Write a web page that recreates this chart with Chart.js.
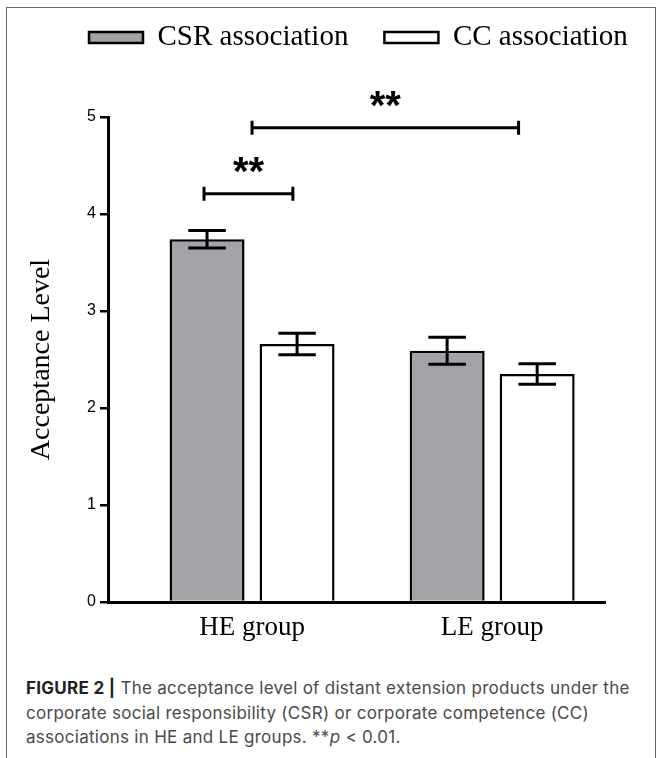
<!DOCTYPE html>
<html>
<head>
<meta charset="utf-8">
<script src="https://cdn.jsdelivr.net/npm/chart.js@4"></script>
<style>
  html, body { margin: 0; padding: 0; background: #fff; overflow: hidden; }
  #page { position: relative; width: 657px; height: 758px; overflow: hidden; }
  #frame {
    position: absolute; left: 6px; top: 7px; width: 648px; height: 760px;
    border-top: 1px solid #666; border-left: 1px solid #666; border-right: 1px solid #666;
    pointer-events: none; z-index: 2;
  }
  #chart { position: absolute; left: 0; top: -13px; }
  #caption {
    position: absolute; left: 26px; top: 676px;
    font-family: Inter, "Liberation Sans", Arial, sans-serif; font-size: 17px; line-height: 24.5px;
    color: #4a4a4a; letter-spacing: 0.28px; white-space: nowrap;
  }
  #caption b { color: #222; font-weight: 700; }
</style>
</head>
<body>
<div id="page">
  <div id="frame"></div>
  <canvas id="chart" width="657" height="672"></canvas>
  <div id="caption"><b>FIGURE 2 |</b> The acceptance level of distant extension products under the<br>corporate social responsibility (CSR) or corporate competence (CC)<br>associations in HE and LE groups. **<i>p</i> &lt; 0.01.</div>
</div>
<script>
// Groups along the x axis and the two association conditions
const categories = ['HE group', 'LE group'];
const seriesNames = ['CSR association', 'CC association'];
const csrMeans = [3.74, 2.59];
const ccMeans = [2.66, 2.35];
const csrErrors = [0.09, 0.14];
const ccErrors = [0.11, 0.105];
const yTicks = [0, 1, 2, 3, 4, 5];

// Significance brackets: x extents in axis units, height in data units
const brackets = [
  { x0: -0.2, x1: 0.17, y: 4.21, label: '**' },
  { x0: 0.0, x1: 1.11, y: 4.89, label: '**' }
];

const toPoints = arr => arr.map((v, i) => ({ x: i, y: v }));

// Draws mean ± error whiskers on top of each bar
const errorBarPlugin = {
  id: 'errorBars',
  afterDatasetsDraw(chart) {
    const { ctx, scales: { y } } = chart;
    const errs = [csrErrors, ccErrors];
    chart.data.datasets.forEach((ds, di) => {
      const meta = chart.getDatasetMeta(di);
      meta.data.forEach((bar, i) => {
        const v = ds.data[i].y;
        const e = errs[di][i];
        const top = y.getPixelForValue(v + e);
        const bot = y.getPixelForValue(v - e);
        const half = bar.width / 4;
        ctx.save();
        ctx.strokeStyle = '#000';
        ctx.lineWidth = 3;
        ctx.beginPath();
        ctx.moveTo(bar.x, top); ctx.lineTo(bar.x, bot);
        ctx.moveTo(bar.x - half, top); ctx.lineTo(bar.x + half, top);
        ctx.moveTo(bar.x - half, bot); ctx.lineTo(bar.x + half, bot);
        ctx.stroke();
        ctx.restore();
      });
    });
  }
};

// Draws the significance brackets with their star labels
const bracketPlugin = {
  id: 'sigBrackets',
  afterDraw(chart) {
    const { ctx, scales: { x, y } } = chart;
    brackets.forEach(b => {
      const xa = x.getPixelForValue(b.x0);
      const xb = x.getPixelForValue(b.x1);
      const yy = y.getPixelForValue(b.y);
      ctx.save();
      ctx.strokeStyle = '#000';
      ctx.lineWidth = 3;
      ctx.beginPath();
      ctx.moveTo(xa, yy); ctx.lineTo(xb, yy);
      ctx.moveTo(xa, yy - 7); ctx.lineTo(xa, yy + 7);
      ctx.moveTo(xb, yy - 7); ctx.lineTo(xb, yy + 7);
      ctx.stroke();
      ctx.fillStyle = '#000';
      ctx.font = 'bold 40px "Liberation Sans", Arial, sans-serif';
      ctx.textAlign = 'center';
      ctx.textBaseline = 'alphabetic';
      ctx.fillText(b.label, (xa + xb) / 2, yy - 9);
      ctx.restore();
    });
  }
};

// Keep the legend on one row and reserve the space between it and the plot area
const legendSpacePlugin = {
  id: 'legendSpace',
  beforeLayout(chart) {
    const lg = chart.legend;
    if (lg && !lg._spaced) {
      const fit = lg.fit;
      lg.fit = function () {
        this.maxWidth = Math.max(this.maxWidth, 700);
        fit.call(this);
        this.height = 130;
      };
      lg._spaced = true;
    }
  },
  afterLayout(chart) {
    const lg = chart.legend;
    if (lg) lg.right = lg.left + 700;
  }
};

const serif = '"Liberation Serif", "Times New Roman", serif';
const sans = '"Liberation Sans", Arial, sans-serif';

new Chart(document.getElementById('chart'), {
  type: 'bar',
  data: {
    datasets: [
      {
        label: seriesNames[0],
        data: toPoints(csrMeans),
        backgroundColor: '#a3a2a7',
        borderColor: '#000',
        borderWidth: 2.5
      },
      {
        label: seriesNames[1],
        data: toPoints(ccMeans),
        backgroundColor: '#fff',
        borderColor: '#000',
        borderWidth: 2.5
      }
    ]
  },
  options: {
    responsive: false,
    animation: false,
    devicePixelRatio: 1,
    categoryPercentage: 0.75,
    barPercentage: 0.833,
    layout: { padding: { left: 53, right: 52, top: 0, bottom: 7 } },
    plugins: {
      tooltip: { enabled: false },
      legend: {
        position: 'top',
        align: 'start',
        labels: {
          color: '#000',
          font: { family: serif, size: 29 },
          boxWidth: 54,
          boxHeight: 11,
          padding: 36
        }
      }
    },
    scales: {
      x: {
        type: 'linear',
        offset: false,
        min: -0.6,
        max: 1.47,
        afterBuildTicks(scale) { scale.ticks = categories.map((_, i) => ({ value: i })); },
        afterFit(scale) { scale.height = 50; },
        grid: { display: false, drawTicks: false },
        border: { display: true, color: '#000', width: 3 },
        ticks: {
          padding: 10,
          color: '#000',
          font: { family: serif, size: 27 },
          callback: v => categories[v] ?? ''
        }
      },
      y: {
        min: 0,
        max: 5,
        afterBuildTicks(scale) { scale.ticks = yTicks.map(v => ({ value: v })); },
        afterFit(scale) { scale.width = 55; },
        grid: { drawOnChartArea: false, drawTicks: true, tickLength: 8, color: '#000', lineWidth: 2.5 },
        border: { display: true, color: '#000', width: 3 },
        ticks: { padding: 4, color: '#000', font: { family: sans, size: 16 } },
        title: {
          display: true,
          text: 'Acceptance Level',
          color: '#000',
          font: { family: serif, size: 28 },
          padding: { top: -28, bottom: 0 }
        }
      }
    }
  },
  plugins: [legendSpacePlugin, errorBarPlugin, bracketPlugin]
});
</script>
</body>
</html>
